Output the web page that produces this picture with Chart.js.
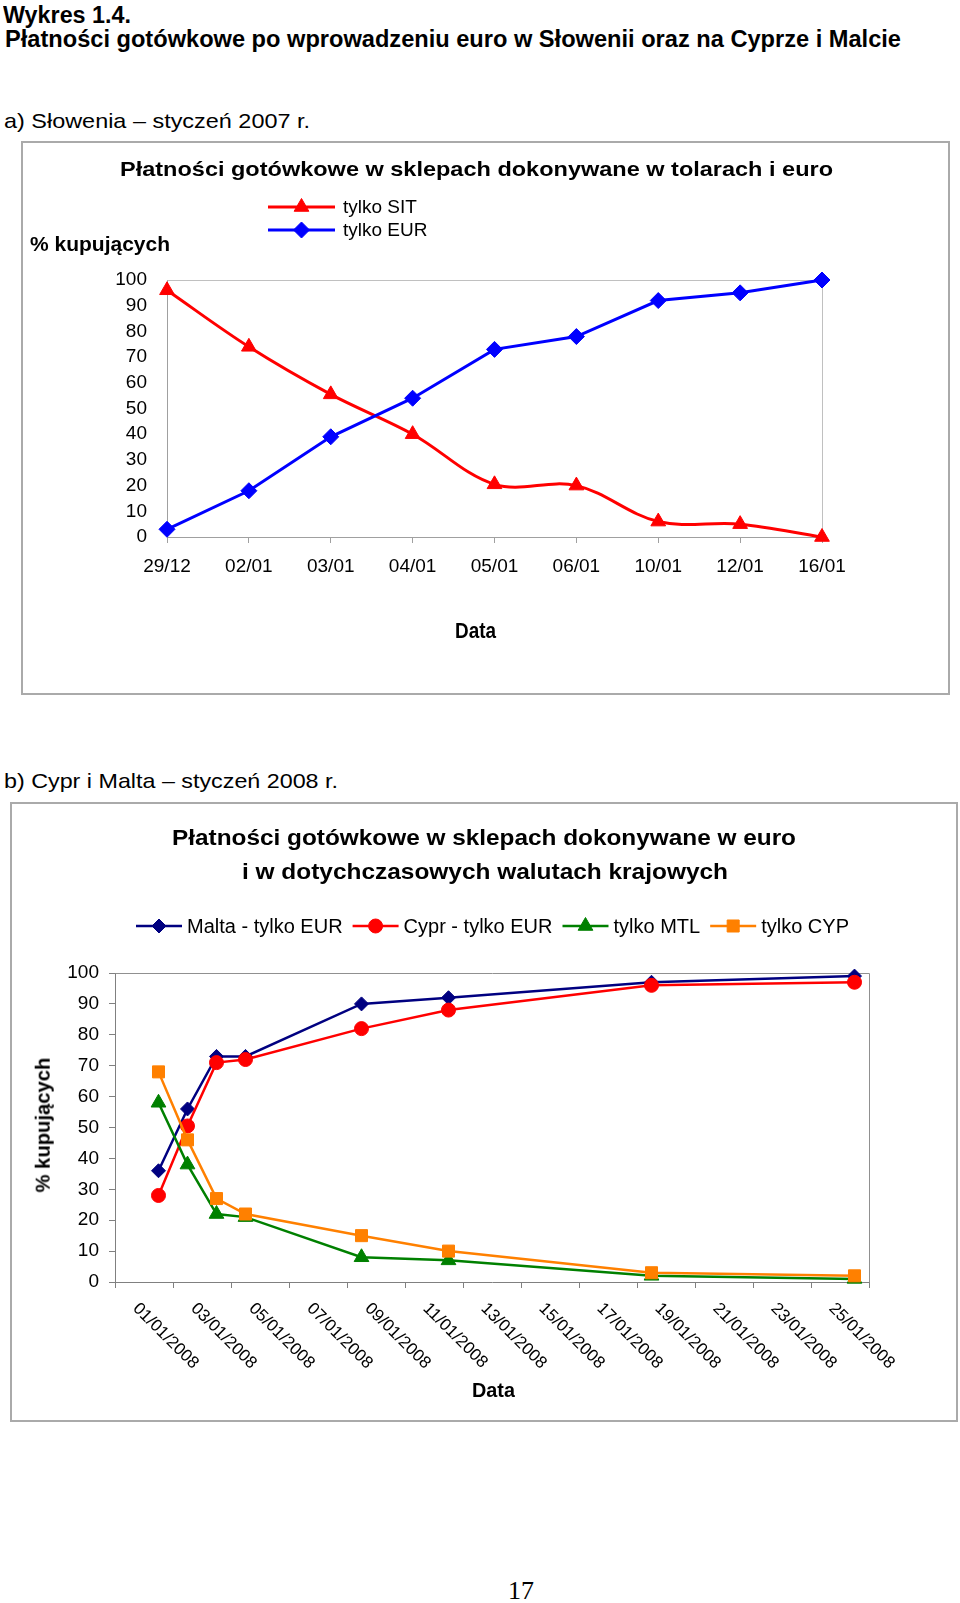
<!DOCTYPE html>
<html><head><meta charset="utf-8">
<script src="https://cdn.jsdelivr.net/npm/chart.js@4/dist/chart.umd.min.js"></script>
<style>
html,body{margin:0;padding:0;background:#fff}
body{width:960px;height:1603px;position:relative;overflow:hidden;font-family:"Liberation Sans",Arial,sans-serif;color:#000}
.t{position:absolute;white-space:nowrap;line-height:1;color:#000}
.b{font-weight:bold}
.box{position:absolute;border:2px solid #aaaaaa;box-sizing:border-box}
canvas{position:absolute}
</style></head><body>

<div class="t b" data-w="128" style="left:3px;top:4px;font-size:23px">Wykres 1.4.</div>
<div class="t b" data-w="896" style="left:5px;top:28px;font-size:23px">Płatności gotówkowe po wprowadzeniu euro w Słowenii oraz na Cyprze i Malcie</div>
<div class="t" data-w="306" style="left:4px;top:110px;font-size:21px">a) Słowenia – styczeń 2007 r.</div>

<div class="box" style="left:21px;top:141px;width:929px;height:554px"></div>
<canvas id="chartA" width="927" height="552" style="left:22px;top:142px;width:927px;height:552px"></canvas>
<div class="t b" data-w="713" style="left:120px;top:158px;font-size:21px">Płatności gotówkowe w sklepach dokonywane w tolarach i euro</div>
<div class="t b" data-w="140" style="left:30px;top:234px;font-size:20px">% kupujących</div>
<div class="t b" data-w="41" style="left:455px;top:620px;font-size:22px;font-family:'Liberation Sans Narrow','Liberation Sans',Arial,sans-serif">Data</div>

<div class="t" data-w="334" style="left:4px;top:770px;font-size:21px">b) Cypr i Malta – styczeń 2008 r.</div>

<div class="box" style="left:10px;top:802px;width:948px;height:620px"></div>
<canvas id="chartB" width="946" height="618" style="left:11px;top:803px;width:946px;height:618px"></canvas>
<div class="t b" data-w="624" style="left:172px;top:827px;font-size:22px">Płatności gotówkowe w sklepach dokonywane w euro</div>
<div class="t b" data-w="486" style="left:242px;top:861px;font-size:22px">i w dotychczasowych walutach krajowych</div>
<div class="t b" id="ylabB" style="left:0;top:0;font-size:20px">% kupujących</div>
<div class="t b" data-w="43" style="left:472px;top:1379px;font-size:21px;font-family:'Liberation Sans Narrow','Liberation Sans',Arial,sans-serif">Data</div>

<div class="t" style="left:508px;top:1578px;font-size:26px;font-family:'Liberation Serif','Times New Roman',serif">17</div>

<script>
// ---------- Data: a) Słowenia, styczeń 2007 ----------
const slCategories = ['29/12', '02/01', '03/01', '04/01', '05/01', '06/01', '10/01', '12/01', '16/01'];
const slOnlySIT = [96, 74, 55.5, 40, 20.5, 20, 6, 5, 0];
const slOnlyEUR = [3, 18, 39, 54, 73, 78, 92, 95, 100];
const slSeriesNames = ['tylko SIT', 'tylko EUR'];
const slYTicks = [0, 10, 20, 30, 40, 50, 60, 70, 80, 90, 100];

// ---------- Data: b) Cypr i Malta, styczeń 2008 ----------
const cmDates = ['02/01/2008', '03/01/2008', '04/01/2008', '05/01/2008', '09/01/2008', '12/01/2008', '19/01/2008', '26/01/2008'];
const cmMaltaEUR = [36, 56, 73, 73, 90, 92, 97, 99];
const cmCyprEUR = [28, 50.5, 71, 72, 82, 88, 96, 97];
const cmOnlyMTL = [58, 38, 22, 21, 8, 7, 2, 1];
const cmOnlyCYP = [68, 46, 27, 22, 15, 10, 3, 2];
const cmSeriesNames = ['Malta - tylko EUR', 'Cypr - tylko EUR', 'tylko MTL', 'tylko CYP'];
const cmTickLabels = ['01/01/2008', '03/01/2008', '05/01/2008', '07/01/2008', '09/01/2008', '11/01/2008', '13/01/2008', '15/01/2008', '17/01/2008', '19/01/2008', '21/01/2008', '23/01/2008', '25/01/2008'];
const cmYTicks = [0, 10, 20, 30, 40, 50, 60, 70, 80, 90, 100];

// ---------- text fitting ----------
document.querySelectorAll('[data-w]').forEach(el => {
  const w = el.getBoundingClientRect().width;
  const target = +el.dataset.w;
  el.style.transformOrigin = 'left center';
  el.style.transform = 'scaleX(' + (target / w) + ')';
});
(function () {
  const el = document.getElementById('ylabB');
  const r = el.getBoundingClientRect();
  const s = 135 / r.width;
  el.style.left = (43 - r.width / 2) + 'px';
  el.style.top = (1125 - r.height / 2) + 'px';
  el.style.transformOrigin = 'center center';
  el.style.transform = 'rotate(-90deg) scaleX(' + s + ')';
})();

const FONT = "'Liberation Sans', Arial, sans-serif";
const dayOf = s => parseInt(s.split('/')[0], 10);

// ---------- plugins ----------
const plotBorder = {
  id: 'plotBorder',
  beforeDatasetsDraw(chart, args, opts) {
    const a = chart.chartArea, ctx = chart.ctx;
    ctx.save();
    ctx.strokeStyle = opts.color;
    ctx.lineWidth = 1;
    ctx.beginPath();
    ctx.moveTo(Math.round(a.left) + 0.5, Math.round(a.top) + 0.5);
    ctx.lineTo(Math.round(a.right) + 0.5, Math.round(a.top) + 0.5);
    ctx.lineTo(Math.round(a.right) + 0.5, Math.round(a.bottom) + 0.5);
    ctx.stroke();
    ctx.restore();
  }
};

function drawMarker(ctx, style, r, x, y) {
  if (Chart.helpers && Chart.helpers.drawPoint) {
    Chart.helpers.drawPoint(ctx, {pointStyle: style, radius: r, rotation: 0, borderWidth: 1}, x, y);
  }
}

const lineLegend = {
  id: 'lineLegend',
  afterDraw(chart, args, o) {
    const ctx = chart.ctx;
    ctx.save();
    ctx.font = o.font;
    ctx.textBaseline = 'middle';
    ctx.textAlign = 'left';
    let x = o.x, y = o.y;
    chart.data.datasets.forEach(ds => {
      ctx.strokeStyle = ds.borderColor;
      ctx.lineWidth = ds.borderWidth;
      ctx.beginPath();
      ctx.moveTo(x, y);
      ctx.lineTo(x + o.lineLen, y);
      ctx.stroke();
      ctx.fillStyle = ds.pointBackgroundColor;
      ctx.strokeStyle = ds.pointBorderColor;
      ctx.lineWidth = 1;
      drawMarker(ctx, ds.pointStyle, ds.pointRadius, x + o.lineLen / 2, y);
      ctx.fillStyle = '#000';
      ctx.fillText(ds.label, x + o.lineLen + o.textGap, y + 1);
      if (o.vertical) {
        y += o.rowStep;
      } else {
        x += o.lineLen + o.textGap + ctx.measureText(ds.label).width + o.itemGap;
      }
    });
    ctx.restore();
  }
};

const rotatedDateLabels = {
  id: 'rotatedDateLabels',
  afterDraw(chart, args, o) {
    if (!o.labels) return;
    const ctx = chart.ctx, xs = chart.scales.x, a = chart.chartArea;
    ctx.save();
    ctx.font = o.font;
    ctx.fillStyle = '#000';
    ctx.textAlign = 'left';
    ctx.textBaseline = 'middle';
    o.labels.forEach(lbl => {
      const px = xs.getPixelForValue(dayOf(lbl) - 0.5);
      ctx.save();
      ctx.translate(px + o.dx, a.bottom + o.dy);
      ctx.rotate(Math.PI / 4);
      ctx.fillText(lbl, 0, 0);
      ctx.restore();
    });
    ctx.restore();
  }
};

// ---------- Chart A ----------
new Chart(document.getElementById('chartA'), {
  type: 'line',
  data: {
    labels: slCategories,
    datasets: [
      {label: slSeriesNames[0], data: slOnlySIT, borderColor: '#ff0000', backgroundColor: '#ff0000',
       borderWidth: 3, tension: 0.35, pointStyle: 'triangle', pointRadius: 8.5,
       pointBackgroundColor: '#ff0000', pointBorderColor: '#ff0000', pointBorderWidth: 1, clip: false, order: 1},
      {label: slSeriesNames[1], data: slOnlyEUR, borderColor: '#0000ff', backgroundColor: '#0000ff',
       borderWidth: 3, tension: 0, pointStyle: 'rectRot', pointRadius: 8,
       pointBackgroundColor: '#0000ff', pointBorderColor: '#0000ff', pointBorderWidth: 1, clip: false, order: 0}
    ]
  },
  options: {
    responsive: false, animation: false, events: [],
    layout: {padding: {left: 85, top: 138, right: 127, bottom: 97}},
    plugins: {
      legend: {display: false}, tooltip: {enabled: false}, title: {display: false},
      plotBorder: {color: '#c0c0c0'},
      lineLegend: {x: 246, y: 65, lineLen: 67, textGap: 8, rowStep: 23, vertical: true, font: '19px ' + FONT}
    },
    scales: {
      x: {
        type: 'category', offset: false,
        grid: {display: true, drawOnChartArea: false, drawTicks: true, tickLength: 6, color: '#a0a0a0'},
        border: {display: true, color: '#a0a0a0', width: 1},
        ticks: {color: '#000', font: {family: FONT, size: 19}, padding: 12, maxRotation: 0, minRotation: 0, autoSkip: false},
        afterFit(s) { s.height = 60; }
      },
      y: {
        min: slYTicks[0], max: slYTicks[slYTicks.length - 1],
        afterBuildTicks(s) { s.ticks = slYTicks.map(v => ({value: v})); },
        grid: {display: true, drawOnChartArea: false, drawTicks: false},
        border: {display: true, color: '#a0a0a0', width: 1},
        ticks: {color: '#000', font: {family: FONT, size: 19}, padding: 20, autoSkip: false},
        afterFit(s) { s.width = 60; }
      }
    }
  },
  plugins: [plotBorder, lineLegend]
});

// ---------- Chart B ----------
const cmX = cmDates.map(d => dayOf(d) - 0.5);
const toPts = arr => arr.map((v, i) => ({x: cmX[i], y: v}));
const cmStyles = [
  {c: '#000080', ps: 'rectRot', r: 7},
  {c: '#ff0000', ps: 'circle', r: 7},
  {c: '#008000', ps: 'triangle', r: 8.5},
  {c: '#ff8000', ps: 'rect', r: 8.5}
];
const cmSeries = [cmMaltaEUR, cmCyprEUR, cmOnlyMTL, cmOnlyCYP];

new Chart(document.getElementById('chartB'), {
  type: 'line',
  data: {
    datasets: cmSeries.map((arr, i) => ({
      label: cmSeriesNames[i], data: toPts(arr),
      borderColor: cmStyles[i].c, backgroundColor: cmStyles[i].c, borderWidth: 2.5, tension: 0,
      pointStyle: cmStyles[i].ps, pointRadius: cmStyles[i].r,
      pointBackgroundColor: cmStyles[i].c, pointBorderColor: cmStyles[i].c, pointBorderWidth: 1,
      clip: false, order: cmSeries.length - i
    }))
  },
  options: {
    responsive: false, animation: false, events: [],
    layout: {padding: {left: 44, top: 170, right: 88, bottom: 99}},
    plugins: {
      legend: {display: false}, tooltip: {enabled: false}, title: {display: false},
      plotBorder: {color: '#909090'},
      lineLegend: {x: 125, y: 123, lineLen: 46, textGap: 5, itemGap: 10, vertical: false, font: '20px ' + FONT},
      rotatedDateLabels: {labels: cmTickLabels, font: '17px ' + FONT, dx: 6, dy: 24}
    },
    scales: {
      x: {
        type: 'linear', min: 0, max: dayOf(cmDates[cmDates.length - 1]),
        ticks: {display: false, stepSize: 2},
        grid: {display: true, drawOnChartArea: false, drawTicks: true, tickLength: 6, color: '#808080'},
        border: {display: true, color: '#808080', width: 1},
        afterFit(s) { s.height = 40; }
      },
      y: {
        min: cmYTicks[0], max: cmYTicks[cmYTicks.length - 1],
        afterBuildTicks(s) { s.ticks = cmYTicks.map(v => ({value: v})); },
        grid: {display: true, drawOnChartArea: false, drawTicks: true, tickLength: 6, color: '#808080'},
        border: {display: true, color: '#808080', width: 1},
        ticks: {color: '#000', font: {family: FONT, size: 19}, padding: 10, autoSkip: false},
        afterFit(s) { s.width = 60; }
      }
    }
  },
  plugins: [plotBorder, lineLegend, rotatedDateLabels]
});
</script>
</body></html>
